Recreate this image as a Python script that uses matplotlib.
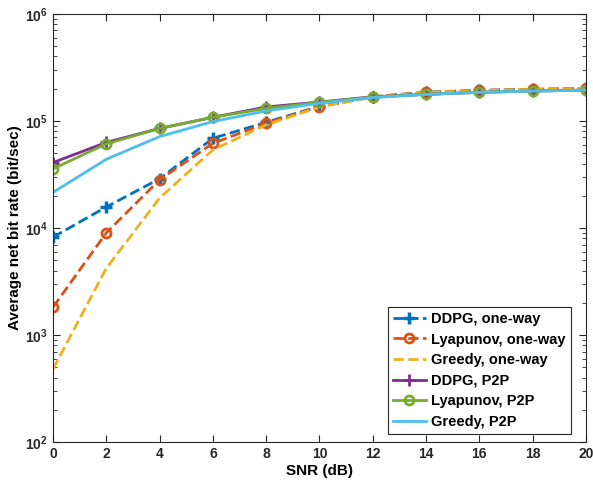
import numpy as np
import matplotlib.pyplot as plt

plt.rcParams['font.family'] = ['Liberation Sans', 'DejaVu Sans']
plt.rcParams['font.weight'] = 'bold'
plt.rcParams['mathtext.default'] = 'bf'

# SNR points (dB)
snr = [0, 2, 4, 6, 8, 10, 12, 14, 16, 18, 20]

# average net bit rate (bit/sec)
ddpg_oneway = [8200, 15700, 28800, 68800, 97000, 137000, 168000, 185000, 193000, 197000, 201000]
lyap_oneway = [1820, 9000, 28200, 61700, 95000, 136000, 168000, 185000, 193000, 197000, 201000]
greedy_oneway = [480, 4200, 19000, 53700, 91800, 135000, 167000, 184000, 192000, 197000, 201000]
ddpg_p2p = [40800, 63000, 85000, 108000, 135000, 150000, 168000, 177000, 185000, 190000, 194000]
lyap_p2p = [35700, 61000, 85000, 108000, 131000, 149000, 167000, 177000, 185000, 190000, 194000]
greedy_p2p = [21500, 43800, 71400, 98500, 124000, 146000, 165000, 177000, 185000, 190000, 194000]

fig = plt.figure(figsize=(5.93, 4.95), dpi=100)
ax = fig.add_axes([0.0894, 0.107, 0.8986, 0.865])

lw = 2
ax.plot(snr, ddpg_oneway, '--', color='#0072BD', lw=lw, marker='+', ms=8, mew=2.5, label='DDPG, one-way')
ax.plot(snr, lyap_oneway, '--', color='#D95319', lw=lw, marker='o', ms=6.5, mew=2, mfc='none', label='Lyapunov, one-way')
ax.plot(snr, greedy_oneway, '--', color='#EDB120', lw=lw, label='Greedy, one-way')
ax.plot(snr, ddpg_p2p, '-', color='#7E2F8E', lw=lw, marker='+', ms=8, mew=2, label='DDPG, P2P')
ax.plot(snr, lyap_p2p, '-', color='#77AC30', lw=lw, marker='o', ms=6.5, mew=2, mfc='none', label='Lyapunov, P2P')
ax.plot(snr, greedy_p2p, '-', color='#4DBEEE', lw=lw, label='Greedy, P2P')

ax.set_yscale('log')
ax.set_xlim(0, 20)
ax.set_ylim(1e2, 1e6)
ax.set_xticks(range(0, 21, 2))
ax.set_yticks([1e2, 1e3, 1e4, 1e5, 1e6])
ax.tick_params(which='both', direction='in', top=True, right=True, labelsize=10, colors='#262626')
ax.tick_params(which='major', length=5)
ax.tick_params(which='minor', length=3)
for s in ax.spines.values():
    s.set_color('#262626')
    s.set_linewidth(0.8)

ax.set_xlabel('SNR (dB)', fontsize=11, fontweight='bold', labelpad=2)
ax.set_ylabel('Average net bit rate (bit/sec)', fontsize=11, fontweight='bold', labelpad=2)

leg = ax.legend(loc='lower right', bbox_to_anchor=(0.972, 0.019), fontsize=10.5,
                fancybox=False, framealpha=1, edgecolor='#262626', handlelength=2.2,
                borderpad=0.35, labelspacing=0.45, handletextpad=0.4, borderaxespad=0)
leg.get_frame().set_linewidth(0.8)

fig.savefig('out.png', dpi=100)
